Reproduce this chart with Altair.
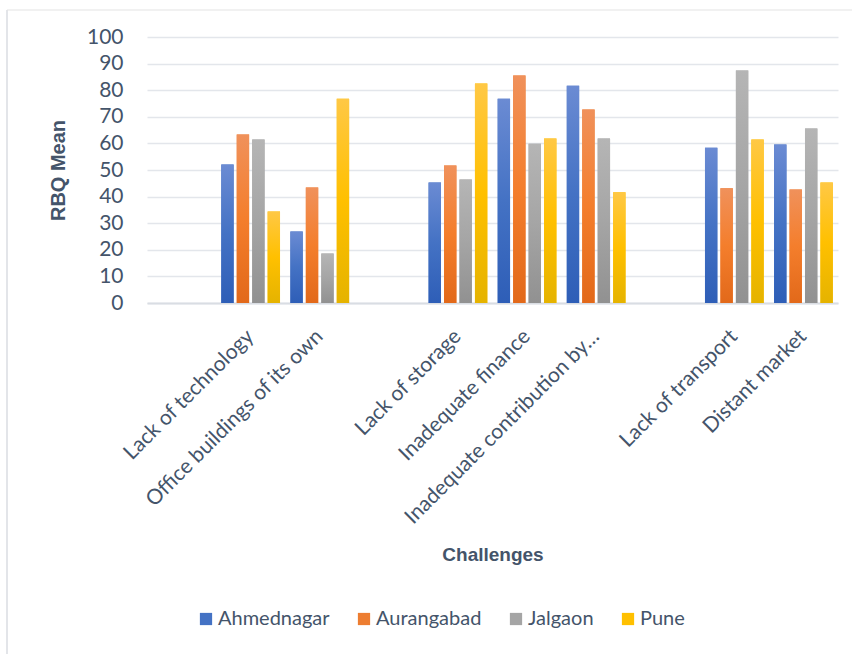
import altair as alt
import pandas as pd

# x slots as laid out in the reference (blank slots are empty categories)
slots = [" ", "Lack of technology", "Office buildings of its own", "  ",
         "Lack of storage", "Inadequate finance", "Inadequate contribution by…",
         "   ", "Lack of transport", "Distant market"]
challenges = ["Lack of technology", "Office buildings of its own", "Lack of storage",
              "Inadequate finance", "Inadequate contribution by…",
              "Lack of transport", "Distant market"]
districts = ["Ahmednagar", "Aurangabad", "Jalgaon", "Pune"]
ahmednagar = [52.1, 26.9, 45.3, 76.8, 81.7, 58.4, 59.6]
aurangabad = [63.3, 43.4, 51.7, 85.5, 72.7, 43.1, 42.7]
jalgaon = [61.5, 18.6, 46.4, 59.9, 61.8, 87.4, 65.6]
pune = [34.4, 76.8, 82.5, 61.8, 41.6, 61.5, 45.3]
y_ticks = [0, 10, 20, 30, 40, 50, 60, 70, 80, 90, 100]

series = {"Ahmednagar": ahmednagar, "Aurangabad": aurangabad, "Jalgaon": jalgaon, "Pune": pune}
rows = []
for d, vals in series.items():
    for c, v in zip(challenges, vals):
        rows.append({"challenge": c, "district": d, "value": v})
df = pd.DataFrame(rows)

solid = ["#4472C4", "#ED7D31", "#A5A5A5", "#FFC000"]
grads = {
    "Ahmednagar": ["#6B8BD3", "#4472C4", "#2E5EB7"],
    "Aurangabad": ["#F0915B", "#F47E2C", "#E2691A"],
    "Jalgaon": ["#B5B5B5", "#A5A5A5", "#919191"],
    "Pune": ["#FFC845", "#FFC000", "#E5B300"],
}

TXT = "#44546A"
FONT = "Lato"

x_enc = alt.X("challenge:N",
              scale=alt.Scale(domain=slots, paddingInner=0.15, paddingOuter=0.075),
              axis=alt.Axis(labelAngle=-45, labelAlign="right", labelBaseline="middle",
                            labelPadding=30, tickSize=0, labelFontSize=21, labelFont=FONT,
                            labelColor=TXT, domainColor="#D9DDE3", domainWidth=2,
                            titleFont="Liberation Sans", titleFontWeight="bold",
                            titleFontSize=19, titleColor=TXT, titleY=251,
                            titleBaseline="middle", labelLimit=400),
              title="Challenges")
xo_enc = alt.XOffset("district:N", scale=alt.Scale(domain=districts, paddingInner=0.2))
y_enc = alt.Y("value:Q", scale=alt.Scale(domain=[0, 100]),
              axis=alt.Axis(values=y_ticks, labelOverlap=False,
                            tickSize=0, domain=False, labelFontSize=21,
                            labelFont=FONT, labelColor=TXT, labelPadding=24,
                            gridColor="#E3E6EB", gridWidth=1.5,
                            titleFont="Liberation Sans", titleFontWeight="bold",
                            titleFontSize=20, titleColor=TXT, titleX=-89,
                            titleBaseline="middle", titleAlign="center"),
              title="RBQ Mean")

base = alt.Chart(df).mark_bar().encode(
    x=x_enc, xOffset=xo_enc, y=y_enc,
    color=alt.Color("district:N", scale=alt.Scale(domain=districts, range=solid),
                    legend=alt.Legend(orient="none", legendX=49, legendY=572,
                                      direction="horizontal", title=None,
                                      symbolType="square", symbolSize=150,
                                      symbolStrokeWidth=0, labelFontSize=20,
                                      labelFont=FONT, labelColor=TXT,
                                      columnPadding=24, labelOffset=2)),
)

overlays = []
for d in districts:
    c1, c2, c3 = grads[d]
    g = alt.Gradient(gradient="linear", x1=0, x2=0, y1=0, y2=1,
                     stops=[alt.GradientStop(offset=0, color=c1),
                            alt.GradientStop(offset=0.5, color=c2),
                            alt.GradientStop(offset=1, color=c3)])
    overlays.append(
        alt.Chart(df).transform_filter(alt.datum.district == d)
        .mark_bar(fill=g)
        .encode(x="challenge:N", xOffset="district:N", y="value:Q")
    )

border_df = pd.DataFrame({"k": [0]})
vline = alt.Chart(border_df).mark_rule(color="#DADDE2", strokeWidth=1.5).encode(
    x=alt.value(-140), y=alt.value(-27), y2=alt.value(620))
hline = alt.Chart(border_df).mark_rule(color="#E3E3E3", strokeWidth=1).encode(
    y=alt.value(-27), x=alt.value(-140), x2=alt.value(710))

chart = alt.layer(base, *overlays, vline, hline).properties(
    width=691, height=266,
    autosize=alt.AutoSizeParams(type="none"),
    padding={"left": 147, "top": 37, "right": 14, "bottom": 351},
    background="white",
).configure_view(stroke=None).configure_axisY(values=y_ticks, tickCount=11)

chart.save("out.html", embed_options={"renderer": "svg", "actions": False})
